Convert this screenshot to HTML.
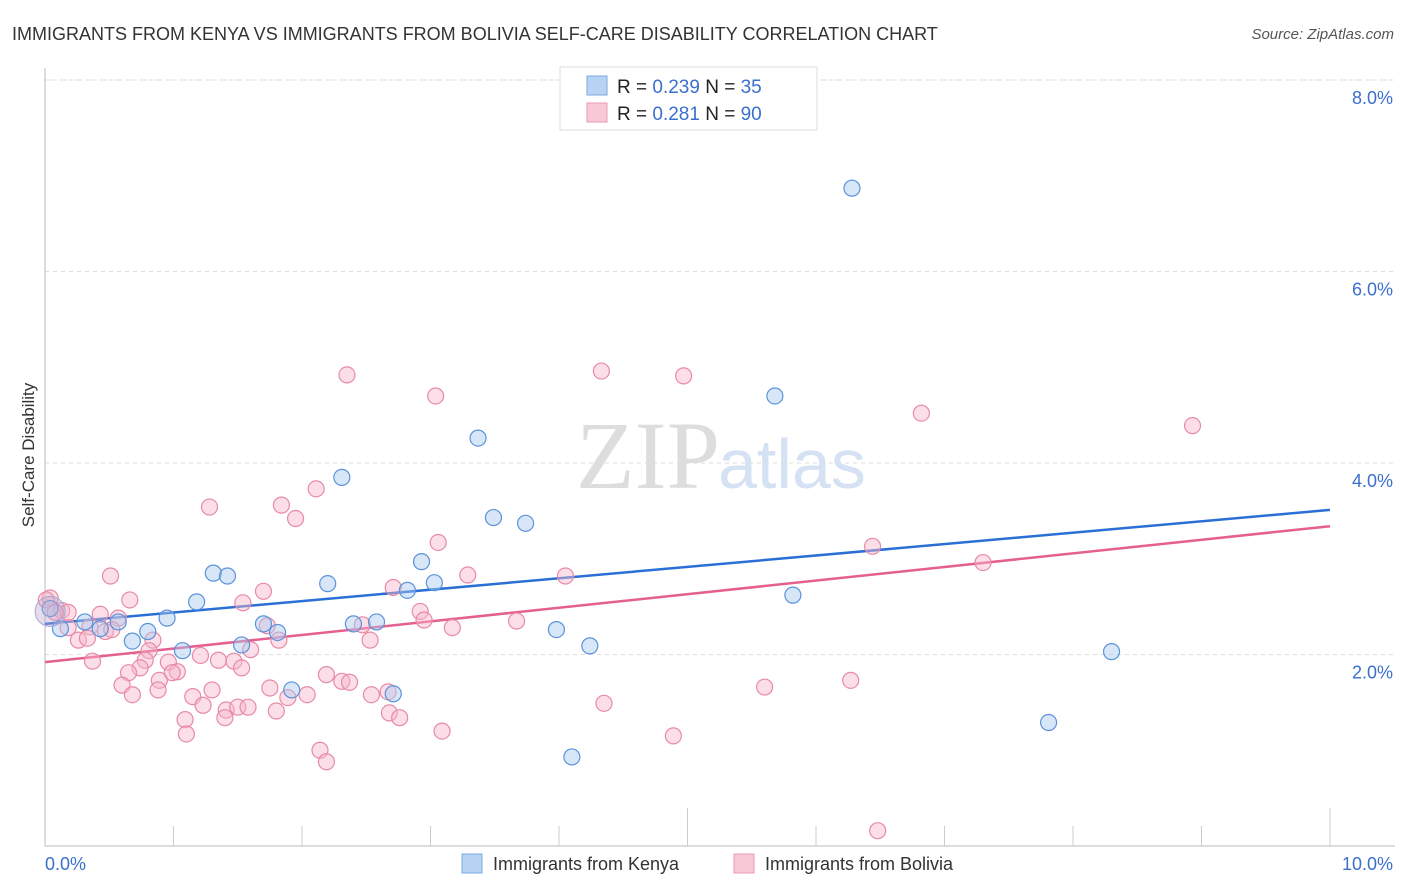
<!DOCTYPE html>
<html><head><meta charset="utf-8"><style>
body{margin:0;background:#fff;font-family:"Liberation Sans",sans-serif;}
svg{display:block}
</style></head><body>
<svg id="chart" width="1406" height="892" xmlns="http://www.w3.org/2000/svg">
<text x="12" y="40" font-size="18" fill="#333">IMMIGRANTS FROM KENYA VS IMMIGRANTS FROM BOLIVIA SELF-CARE DISABILITY CORRELATION CHART</text>
<text x="1394" y="39" font-size="15" fill="#555" font-style="italic" text-anchor="end">Source: ZipAtlas.com</text>
<text x="720" y="488" font-size="96" fill="#ddd" text-anchor="end" font-family="Liberation Serif,serif">ZIP</text>
<text x="718" y="488" font-size="70" fill="#d4e2f4">atlas</text>
<g id="grid"></g><g id="axes"></g><g id="lines"></g><g id="pts"></g>
<text x="34" y="455" font-size="17" fill="#333" text-anchor="middle" transform="rotate(-90 34 455)">Self-Care Disability</text>
<g>
<rect x="560" y="67" width="257" height="63" fill="#fff" stroke="#ddd"/>
<rect x="587" y="76" width="20" height="19" fill="#b8d4f4" stroke="#7aa9e0"/>
<rect x="587" y="103" width="20" height="19" fill="#f9c8d6" stroke="#eb9ab3"/>
<text x="617" y="93" font-size="19" fill="#222">R = <tspan fill="#3a70cc">0.239</tspan>   N = <tspan fill="#3a70cc">35</tspan></text>
<text x="617" y="120" font-size="19" fill="#222">R =  <tspan fill="#3a70cc">0.281</tspan>   N = <tspan fill="#3a70cc">90</tspan></text>
</g>
<g>
<rect x="462" y="854" width="20" height="19" fill="#b8d4f4" stroke="#7aa9e0"/>
<text x="493" y="870" font-size="18" fill="#333">Immigrants from Kenya</text>
<rect x="734" y="854" width="20" height="19" fill="#f9c8d6" stroke="#eb9ab3"/>
<text x="765" y="870" font-size="18" fill="#333">Immigrants from Bolivia</text>
</g>
</svg>
<script>
const yTicks=[2,4,6,8];
const xTickLabels=["0.0%","10.0%"];
const kenyaX=[6.28,5.68,3.37,2.31,3.49,3.74,1.31,1.42,2.93,2.20,3.03,2.82,5.82,1.18,0.95,0.57,0.31,0.12,0.43,0.80,1.70,1.81,2.58,2.40,3.98,0.68,1.53,1.07,4.24,8.30,1.92,2.71,7.81,4.10,0.04];
const kenyaY=[6.87,4.70,4.26,3.85,3.43,3.37,2.85,2.82,2.97,2.74,2.75,2.67,2.62,2.55,2.38,2.34,2.34,2.27,2.27,2.24,2.32,2.23,2.34,2.32,2.26,2.14,2.10,2.04,2.09,2.03,1.63,1.59,1.29,0.93,2.48];
const boliviaX=[2.35,4.33,4.97,3.04,6.82,8.93,1.28,1.84,2.11,1.95,3.06,6.44,7.30,0.51,3.29,4.05,2.71,1.70,1.54,2.92,2.95,3.67,3.17,0.04,0.13,0.18,0.43,0.57,0.35,0.47,0.18,0.26,0.33,0.52,0.84,1.73,1.82,2.53,2.47,0.81,0.37,0.78,0.96,1.21,1.35,1.47,1.53,1.03,0.99,0.74,0.65,0.89,0.60,0.68,0.88,1.30,1.15,1.23,1.41,1.50,1.58,1.75,1.89,2.04,2.19,2.31,2.37,2.54,2.67,1.80,2.68,2.76,4.35,5.60,6.27,1.09,1.10,1.40,3.09,2.14,2.19,4.89,6.48,0.01,0.08,0.66,1.60];
const boliviaY=[4.92,4.96,4.91,4.70,4.52,4.39,3.54,3.56,3.73,3.42,3.17,3.13,2.96,2.82,2.83,2.82,2.70,2.66,2.54,2.45,2.36,2.35,2.28,2.59,2.46,2.44,2.42,2.38,2.29,2.24,2.28,2.15,2.17,2.26,2.15,2.30,2.15,2.15,2.31,2.04,1.93,1.94,1.92,1.99,1.94,1.93,1.86,1.82,1.81,1.86,1.81,1.73,1.68,1.58,1.63,1.63,1.56,1.47,1.42,1.45,1.45,1.65,1.55,1.58,1.79,1.72,1.71,1.58,1.61,1.41,1.39,1.34,1.49,1.66,1.73,1.32,1.17,1.34,1.20,1.00,0.88,1.15,0.16,2.57,2.44,2.57,2.05];
const kenyaTrend=[2.32,3.51];
const boliviaTrend=[1.92,3.34];
const X0=45,X1=1330,Y0=846,PY=95.75;
const sx=v=>X0+(X1-X0)*v/10, sy=v=>Y0-v*PY;
const NS="http://www.w3.org/2000/svg";
function mk(parent,tag,attrs){const e=document.createElementNS(NS,tag);for(const k in attrs)e.setAttribute(k,attrs[k]);document.getElementById(parent).appendChild(e);return e;}
yTicks.forEach(t=>{
 const l=mk('grid','line',{x1:X0,x2:1395,y1:sy(t),y2:sy(t),stroke:'#ddd','stroke-dasharray':'4 4'});
 
 
 const tx=mk('grid','text',{x:1393,y:sy(t)+24,'font-size':18,fill:'#3a70cc','text-anchor':'end'});
 tx.textContent=t.toFixed(1)+'%';
 
 
});
const gl=mk('grid','line',{x1:X0,x2:1395,y1:sy(8),y2:sy(8),stroke:'#ddd','stroke-dasharray':'2 3'});
let ax=mk('axes','line',{x1:X0,x2:X0,y1:68,y2:Y0,stroke:'#bbb'});


ax=mk('axes','line',{x1:X0,x2:1395,y1:Y0,y2:Y0,stroke:'#bbb'});


for(let i=1;i<=10;i++){
 const t=mk('axes','line',{x1:sx(i),x2:sx(i),y1:(i%5==0)?808:826,y2:Y0,stroke:'#ccc'});
 
 
}
[[0,'start',45],[10,'end',1393]].forEach((d,i)=>{
 const t=mk('axes','text',{x:d[2],y:870,'font-size':18,fill:'#3a70cc','text-anchor':d[1]});
 t.textContent=xTickLabels[i];
 
 
});
function pts(xs,ys,fill,stroke,name){
 xs.forEach((x,i)=>{
  const c=mk('pts','circle',{cx:sx(x),cy:sy(ys[i]),r:8,fill:fill,'fill-opacity':0.45,stroke:stroke,'stroke-width':1.2});
  
  
 });
}
pts(boliviaX,boliviaY,'#f7b6c9','#e88aa7','bolivia-point');
pts(kenyaX,kenyaY,'#a9c9f0','#5b92dc','kenya-point');
const big=mk('pts','circle',{cx:sx(0.04),cy:sy(2.45),r:15,fill:'#b9a8d0','fill-opacity':0.4,stroke:'#a9a4d8'});


let tl=mk('lines','line',{x1:sx(0),y1:sy(kenyaTrend[0]),x2:sx(10),y2:sy(kenyaTrend[1]),stroke:'#2a6fd6','stroke-width':2.5});


tl=mk('lines','line',{x1:sx(0),y1:sy(boliviaTrend[0]),x2:sx(10),y2:sy(boliviaTrend[1]),stroke:'#e5608f','stroke-width':2.5});


</script>
</body></html>
